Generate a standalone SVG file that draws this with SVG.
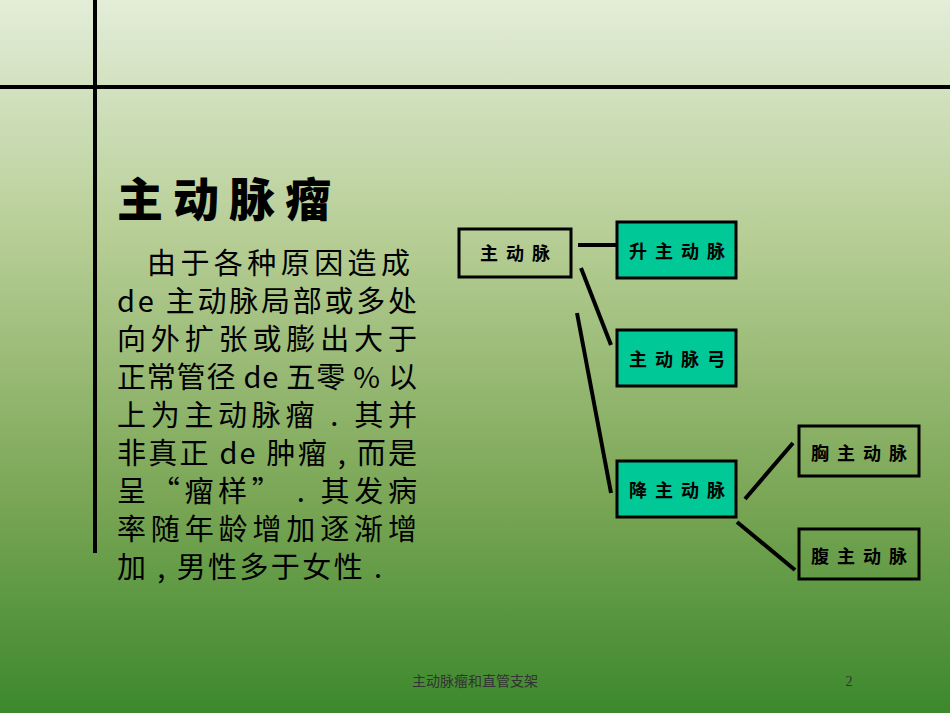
<svg xmlns="http://www.w3.org/2000/svg" width="950" height="713" viewBox="0 0 950 713">
<defs>
<linearGradient id="bg" x1="0" y1="0" x2="0" y2="1">
<stop offset="0" stop-color="#e3edd8"/>
<stop offset="0.35" stop-color="#b4cc92"/>
<stop offset="0.7" stop-color="#7aa655"/>
<stop offset="1" stop-color="#3c882c"/>
</linearGradient>
<style>
.t{font-family:"Noto Sans CJK SC",sans-serif;fill:#000}
.b{stroke:#000;stroke-width:3}
.n{font-family:"Noto Sans CJK SC",sans-serif;font-size:18px;font-weight:bold;letter-spacing:8px;text-anchor:middle}
.c{stroke:#000;stroke-width:4}
.p{font-size:29px}
</style>
</defs>
<rect width="950" height="713" fill="url(#bg)"/>
<line x1="95" y1="0" x2="95" y2="553" stroke="#000" stroke-width="4"/>
<line x1="0" y1="87" x2="950" y2="87" stroke="#000" stroke-width="4"/>
<text class="t" x="117" y="216" font-size="46" font-weight="900" letter-spacing="10">主动脉瘤</text>
<g class="t p">
<text x="147" y="274" textLength="263" lengthAdjust="spacing">由于各种原因造成</text>
<text x="117" y="312" textLength="300" lengthAdjust="spacing">de 主动脉局部或多处</text>
<text x="117" y="350" textLength="300" lengthAdjust="spacing">向外扩张或膨出大于</text>
<text x="117" y="388" textLength="300" lengthAdjust="spacing">正常管径 de 五零 % 以</text>
<text x="117" y="426" textLength="300" lengthAdjust="spacing">上为主动脉瘤 . 其并</text>
<text x="117" y="464" textLength="300" lengthAdjust="spacing">非真正 de 肿瘤 , 而是</text>
<text x="117" y="502" textLength="300" lengthAdjust="spacing">呈“瘤样” . 其发病</text>
<text x="117" y="540" textLength="300" lengthAdjust="spacing">率随年龄增加逐渐增</text>
<text x="117" y="578" textLength="265" lengthAdjust="spacing">加 , 男性多于女性 .</text>
</g>
<g id="connectors">
<line class="c" x1="578" y1="245" x2="617" y2="245"/>
<line class="c" x1="581" y1="268" x2="611" y2="345"/>
<line class="c" x1="577" y1="313" x2="611" y2="493"/>
<line class="c" x1="745" y1="499" x2="793" y2="443"/>
<line class="c" x1="737" y1="522" x2="795" y2="570"/>
</g>
<g id="n1"><rect class="b" x="459" y="229" width="112" height="48" fill="none"/><text class="n" x="519" y="260">主动脉</text></g>
<g id="n2"><rect class="b" x="617" y="222" width="119" height="56" fill="#00c896"/><text class="n" x="681" y="258">升主动脉</text></g>
<g id="n3"><rect class="b" x="617" y="330" width="119" height="56" fill="#00c896"/><text class="n" x="681" y="366">主动脉弓</text></g>
<g id="n4"><rect class="b" x="617" y="461" width="119" height="56" fill="#00c896"/><text class="n" x="681" y="497">降主动脉</text></g>
<g id="n5"><rect class="b" x="799" y="426" width="120" height="50" fill="none"/><text class="n" x="863" y="460">胸主动脉</text></g>
<g id="n6"><rect class="b" x="799" y="529" width="120" height="50" fill="none"/><text class="n" x="863" y="563">腹主动脉</text></g>
<text x="475" y="686" font-family="Liberation Serif,'Noto Sans CJK SC',serif" font-size="14" fill="#333" text-anchor="middle">主动脉瘤和直管支架</text>
<text x="849" y="686" font-family="Liberation Serif,serif" font-size="14" fill="#333" text-anchor="middle">2</text>
</svg>
